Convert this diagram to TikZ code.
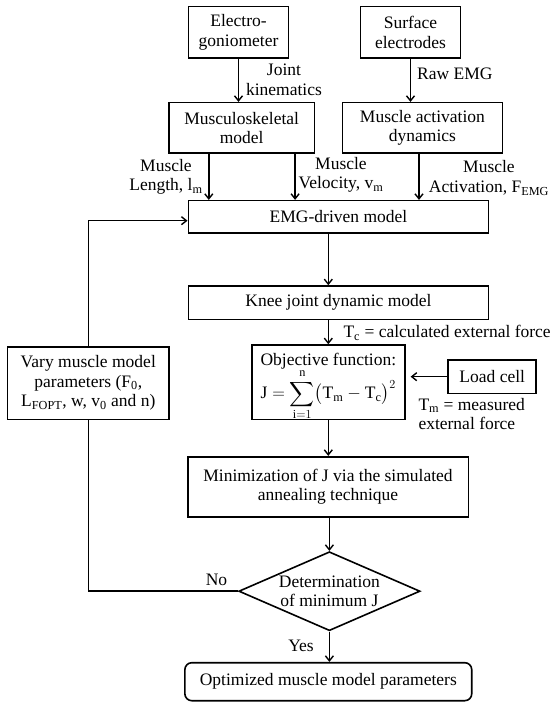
\RequirePackage{fix-cm}
\documentclass[tikz,border=0pt]{standalone}
\usepackage{exscale}
\usepackage{fontspec}
\setmainfont{Liberation Serif}
\usetikzlibrary{arrows.meta,shapes.geometric}
\tikzset{
  every node/.style={font=\fontsize{17.5}{19.5}\selectfont},
  box/.style={draw, line width=1.6pt, align=center, inner sep=2pt},
  lbl/.style={align=center, inner sep=0pt},
  arr/.style={line width=1.4pt, -{Straight Barb[length=5pt,width=8pt,line width=1.4pt]}},
  ln/.style={line width=1.6pt},
}
\begin{document}
\begin{tikzpicture}[x=1pt,y=-1pt]
\useasboundingbox (0,0) rectangle (552,703);
% boxes
\node[box, minimum width=100.3pt, minimum height=51.6pt] (elec) at (238.5,32.5) {Electro-\\goniometer};
\node[box, minimum width=100.3pt, minimum height=51.6pt] (surf) at (410.5,32.5) {Surface\\electrodes};
\node[box, minimum width=145.4pt, minimum height=50.6pt] (musc) at (241.7,128) {Musculoskeletal\\model};
\node[box, minimum width=160.2pt, minimum height=50.6pt] (act) at (422.4,128) {Muscle activation\\dynamics};
\node[box, minimum width=300.3pt, minimum height=32pt] (emg) at (338.5,216.7) {EMG-driven model};
\node[box, minimum width=300.3pt, minimum height=33.3pt] (knee) at (338.5,302.7) {Knee joint dynamic model};
\node[box, minimum width=153.1pt, minimum height=74.3pt] (obj) at (328.3,382.2) {};
\node[lbl] (objt) at (328.3,361) {Objective function:};
\node[lbl] (objf) at (328.3,395) {$\displaystyle \mathrm{J} = \sum_{\mathrm{i}=1}^{\mathrm{n}} \bigl(\mathrm{T}_{\mathrm{m}} - \mathrm{T}_{\mathrm{c}}\bigr)^{2}$};
\node[box, minimum width=161.3pt, minimum height=72.6pt] (vary) at (88.3,383) {Vary muscle model\\parameters (F\textsubscript{0},\\L\textsubscript{FOPT}, w, v\textsubscript{0} and n)};
\node[box, minimum width=88.1pt, minimum height=33.3pt] (load) at (492.2,376.7) {Load cell};
\node[box, minimum width=280.6pt, minimum height=60pt] (min) at (328,486.7) {Minimization of J via the simulated\\annealing technique};
\node[draw, line width=1.6pt, diamond, minimum width=181.3pt, minimum height=79pt, inner sep=0pt] (dia) at (329.4,591.2) {};
\node[lbl] (diat) at (dia.center) {Determination\\of minimum J};
\node[box, rounded corners=7pt, minimum width=286.9pt, minimum height=38pt] (opt) at (328.3,681.7) {Optimized muscle model parameters};
% helper coordinates
\coordinate (lx) at (208.8,0);
\coordinate (vx) at (295.1,0);
\coordinate (ax) at (419,0);
% labels
\node[lbl] (jk) at (284,80) {Joint\\kinematics};
\node[lbl] (raw) at (454.8,74) {Raw EMG};
\node[lbl] (len) at (166,177) {Muscle\\Length, l\textsubscript{m}};
\node[lbl] (vel) at (341,175) {Muscle\\Velocity, v\textsubscript{m}};
\node[lbl] (actl) at (489,178) {Muscle\\Activation, F\textsubscript{EMG}};
\node[lbl, anchor=west] (tc) at (343.3,332.7) {T\textsubscript{c} = calculated external force};
\node[lbl, anchor=west, align=left] (tm) at (418.3,414) {T\textsubscript{m} = measured\\external force};
\node[lbl] (no) at (216.5,580) {No};
\node[lbl] (yes) at (301,646) {Yes};
% connectors
\draw[arr] (elec.south) -- (musc.north -| elec.south);
\draw[arr] (surf.south) -- (act.north -| surf.south);
\draw[arr] (musc.south -| lx) -- (emg.north -| lx);
\draw[arr] (musc.south -| vx) -- (emg.north -| vx);
\draw[arr] (act.south -| ax) -- (emg.north -| ax);
\draw[arr] (obj.north |- emg.south) -- (obj.north |- knee.north);
\draw[arr] (obj.north |- knee.south) -- (obj.north);
\draw[arr, shorten >=5pt] (load.west) -- (load.west -| obj.east);
\draw[arr] (obj.south) -- (min.north -| obj.south);
\draw[arr] (min.south -| dia.north) -- (dia.north);
\draw[arr] (dia.south) -- (opt.north -| dia.south);
\draw[arr] (vary.north) |- ([yshift=-4pt]emg.west);
\draw[ln] (vary.south) |- (dia.west);
\end{tikzpicture}
\end{document}
